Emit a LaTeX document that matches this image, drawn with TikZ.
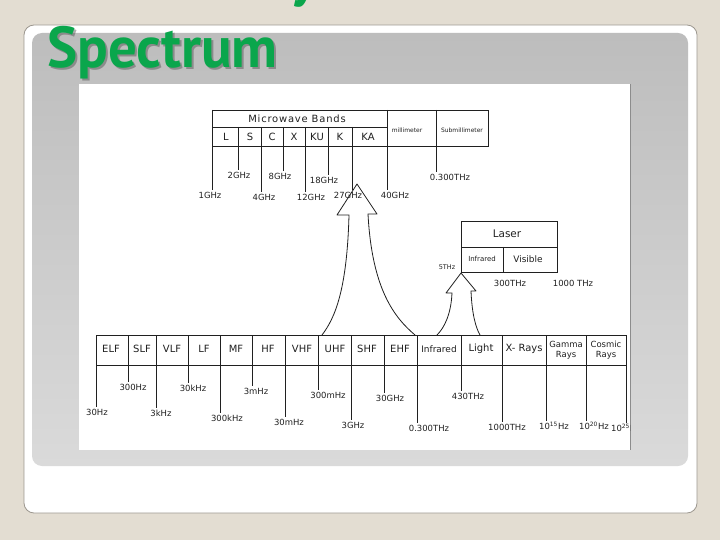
\documentclass[tikz,border=0pt]{standalone}
\usepackage{fontspec}
\setmainfont{DejaVu Sans}
\newfontfamily\titlefont{PT Sans}
\definecolor{bg}{HTML}{E3DDD2}
\definecolor{cardline}{HTML}{9C978F}
\definecolor{paneltop}{HTML}{BDBDBD}
\definecolor{panelbot}{HTML}{DADADA}
\definecolor{ink}{HTML}{202020}
\definecolor{ttlgreen}{HTML}{0AA64C}
\begin{document}
\begin{tikzpicture}[x=1bp,y=-1bp,
  hand/.style={draw=ink,line width=0.8bp},
  cell/.style={font=\fontsize{10}{11}\selectfont,text=ink,inner sep=0},
  freq/.style={font=\fontsize{8.5}{9}\selectfont,text=ink,inner sep=1.5bp},
  small/.style={font=\fontsize{6}{7}\selectfont,text=ink,inner sep=0},
  ttl/.style={font=\titlefont\bfseries\fontsize{58}{60}\selectfont,inner sep=0,xscale=0.985}]
\useasboundingbox (0,0) rectangle (720,540);
% slide background
\fill[bg] (0,0) rectangle (720,540);
\draw[fill=white,draw=cardline,line width=0.8bp,rounded corners=10bp] (24,25) rectangle (697,513);
\shade[top color=paneltop,bottom color=panelbot,rounded corners=10bp] (32,33) rectangle (688,466);
\fill[white] (79,84) rectangle (630,450);
\draw[black!45,line width=0.6bp] (630,84) -- (630,450);
% title
\node[ttl,anchor=base west,text=black!70,opacity=0.45] (ttlshadow) at (49,70) {Spectrum};
\node[ttl,anchor=base west,text=ttlgreen] (title) at (47,68) {Spectrum};
\node[ttl,anchor=base west,text=ttlgreen] (prevline) at (290,-4) {y};
% diagram
\begin{scope}
\clip (79,84) rectangle (630,450);
% ---------- microwave bands box ----------
\draw[hand] (212,110) -- (488,110) -- (488,146) -- (212,146);
\draw[hand] (212,127) -- (387,127);
\node[cell,font=\fontsize{10}{11}\selectfont\addfontfeatures{LetterSpace=8}] (mwb) at (297,119) {Microwave Bands};
\foreach \n/\t/\x in {mL/L/226,mS/S/250,mC/C/272,mX/X/294,mKU/KU/317,mK/K/340,mKA/KA/368}
  \node[cell] (\n) at (\x,137) {\t};
\node[small] (mmw) at (407,130) {millimeter};
\node[small] (smm) at (462,130) {Submillimeter};
\foreach \n/\t/\x/\y in {g1/1GHz/210/195,g2/2GHz/239/175,g4/4GHz/264/197,g8/8GHz/280/176,
  g12/12GHz/311/197,g18/18GHz/324/180,g27/27GHz/348/195,g40/40GHz/395/195,g300/0.300THz/450/177}
  \node[freq] (\n) at (\x,\y) {\t};
\foreach \c/\x/\y/\l in {a1/212/110/g1,a2/238/127/g2,a4/261/127/g4,a8/283/127/g8,a12/305/127/g12,
  a18/328/127/g18,a27/352/127/g27,a40/387/110/g40,a300/436/110/g300}{
  \coordinate (\c) at (\x,\y);
  \draw[hand] (\c) -- (\c |- \l.north);
}
% ---------- laser box ----------
\draw[hand] (461,221) rectangle (557,272);
\draw[hand] (461,247) -- (557,247);
\draw[hand] (503,247) -- (503,272);
\node[cell,font=\fontsize{10.5}{11}\selectfont] (laser) at (507,234) {Laser};
\node[cell,font=\fontsize{7}{8}\selectfont] (lir) at (482,259) {Infrared};
\node[cell,font=\fontsize{9}{10}\selectfont] (lvis) at (528,259) {Visible};
\node[freq,font=\fontsize{6.5}{7}\selectfont] (l5) at (447,267) {5THz};
\node[freq] (l300) at (510,283) {300THz};
\node[freq] (l1000) at (573,283) {1000 THz};
% ---------- main spectrum table ----------
\draw[hand] (96,335) -- (626,335);
\draw[hand] (96,365) -- (626,365);
\foreach \n/\t/\x in {cELF/ELF/111,cSLF/SLF/142,cVLF/VLF/172,cLF/LF/204,cMF/MF/236,cHF/HF/268,
  cVHF/VHF/302,cUHF/UHF/335,cSHF/SHF/367,cEHF/EHF/400,cLight/Light/481,cX/X- Rays/524}
  \node[cell] (\n) at (\x,349) {\t};
\node[cell,font=\fontsize{9}{10}\selectfont] (cIR) at (439,349) {Infrared};
\node[cell,align=center,font=\fontsize{8.5}{10}\selectfont] (cGam) at (566,350) {Gamma\\Rays};
\node[cell,align=center,font=\fontsize{8.5}{10}\selectfont] (cCos) at (606,350) {Cosmic\\Rays};
\foreach \n/\t/\x/\y in {b1/30Hz/97/412,b2/300Hz/133/387,b3/3kHz/161/413,b4/30kHz/193/388,
  b5/300kHz/227/418,b6/3mHz/256/391,b7/30mHz/289/422,b8/300mHz/328/395,b9/3GHz/353/425,
  b10/30GHz/390/398,b11/0.300THz/429/428,b12/430THz/468/396,b13/1000THz/507/427}
  \node[freq] (\n) at (\x,\y) {\t};
\node[freq] (b14) at (554,426) {10\textsuperscript{15}Hz};
\node[freq] (b15) at (594,426) {10\textsuperscript{20}Hz};
\node[freq] (b16) at (626,428) {10\textsuperscript{25}Hz};
\foreach \c/\x/\l in {d1/96/b1,d2/128/b2,d3/156/b3,d4/188/b4,d5/220/b5,d6/252/b6,d7/285/b7,
  d8/318/b8,d9/351/b9,d10/384/b10,d11/417/b11,d12/461/b12,d13/502/b13,d14/546/b14,d15/586/b15,d16/626/b16}{
  \coordinate (\c) at (\x,335);
  \draw[hand] (\c) -- (\c |- \l.north);
}
% ---------- arrows ----------
\coordinate (bigL) at (322,335);
\coordinate (bigR) at (415,335);
\draw[hand,line join=round] (bigL) .. controls (335,318) and (347,290) .. (349,215)
  -- (337,215) -- (357,184) -- (377,214) -- (368,214)
  .. controls (372,290) and (395,318) .. (bigR);
\coordinate (smL) at (437,335);
\coordinate (smR) at (480,335);
\draw[hand,line join=round] (smL) .. controls (444,328) and (451,315) .. (452,293)
  -- (446,293) -- (461,273) -- (476,291) -- (471,291)
  .. controls (472,315) and (476,328) .. (smR);
\end{scope}
\end{tikzpicture}
\end{document}
